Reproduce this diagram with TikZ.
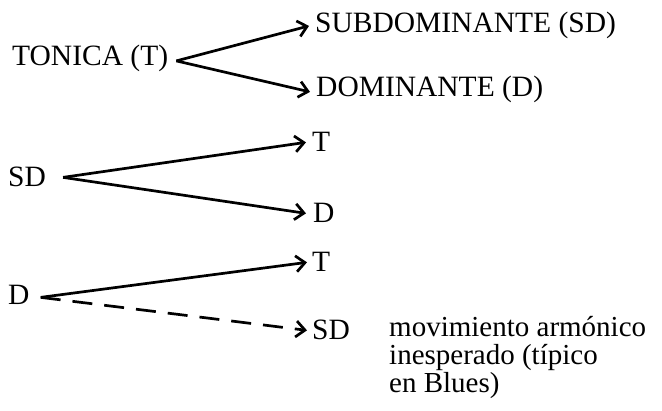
\documentclass[tikz,border=0pt]{standalone}
\usepackage{fontspec}
\setmainfont{Liberation Serif}
\usetikzlibrary{arrows.meta}
\begin{document}
\begin{tikzpicture}[x=1pt,y=-1pt,
  lbl/.style={anchor=base west,inner sep=0pt,font=\fontsize{29.5}{30}\selectfont},
  conn/.style={line width=2.7pt,-{Straight Barb[length=9pt,width=16pt,line width=2.7pt]}},
  dashconn/.style={conn,dash pattern=on 20pt off 12pt}]
\useasboundingbox (0,0) rectangle (662,411);
% row 1
\node[lbl] (ton) at (12,66) {TONICA (T)};
\node[lbl] (sub) at (315,33) {SUBDOMINANTE (SD)};
\node[lbl] (dom) at (316,97) {DOMINANTE (D)};
% row 2
\node[lbl] (sd) at (8,187) {SD};
\node[lbl] (t2) at (312,152) {T};
\node[lbl] (d2) at (313,223) {D};
% row 3
\node[lbl] (d3) at (8,305) {D};
\node[lbl] (t3) at (312,272) {T};
\node[lbl] (sd3) at (312,340) {SD};
\node[anchor=base west,inner sep=0pt,align=left,
  font=\fontsize{29}{28}\selectfont] (note) at (389,393)
  {movimiento armónico\\inesperado (típico\\en Blues)};
% connectors
\draw[conn] ([xshift=8pt,yshift=-2pt]ton.east) -- ([xshift=-6pt]sub.west);
\draw[conn] ([xshift=8pt,yshift=-2pt]ton.east) -- ([xshift=-6pt,yshift=-2pt]dom.west);
\draw[conn] ([xshift=17pt]sd.east) -- ([xshift=-6pt]t2.west);
\draw[conn] ([xshift=17pt]sd.east) -- ([xshift=-7pt]d2.west);
\draw[conn] ([xshift=11pt,yshift=-2pt]d3.east) -- ([xshift=-5pt]t3.west);
\draw[dashconn] ([xshift=11pt,yshift=-2pt]d3.east) -- ([xshift=-5pt]sd3.west);
\end{tikzpicture}
\end{document}
